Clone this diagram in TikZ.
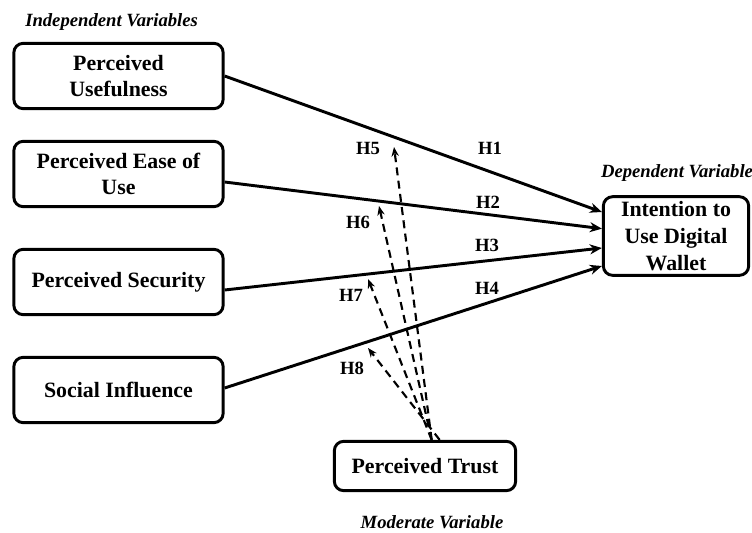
\documentclass[tikz,border=0pt]{standalone}
\usepackage{fontspec}
\setmainfont{Liberation Serif}
\usetikzlibrary{arrows.meta, positioning}

\begin{document}
\begin{tikzpicture}[
    x=0.75pt, y=-0.75pt,
    varBox/.style={draw, line width=2.2pt, rounded corners=7pt, align=center, inner sep=2pt,
        font=\fontsize{16.4}{20}\selectfont\bfseries}, % 变量方框
    groupTag/.style={font=\fontsize{14}{16}\selectfont\bfseries\itshape, inner sep=0pt}, % 变量类别标注
    hypoTag/.style={font=\fontsize{14}{16}\selectfont\bfseries, inner sep=0pt}, % 假设编号
    directPath/.style={line width=2.2pt, -{Stealth[length=9pt, width=7.5pt]}}, % 直接效应
    moderPath/.style={line width=1.6pt, dash pattern=on 6pt off 4pt, -{Stealth[length=7pt, width=5.5pt]}}, % 调节效应
]
    \useasboundingbox (0,0) rectangle (752,532);

    % 1. 自变量、因变量与调节变量方框
    \node[varBox, minimum width=157pt, minimum height=49pt] (pu)  at (118.5,76)  {Perceived\\Usefulness};
    \node[varBox, minimum width=157pt, minimum height=49pt] (peu) at (118.5,174) {Perceived Ease of\\Use};
    \node[varBox, minimum width=157pt, minimum height=49pt] (ps)  at (118.5,282) {Perceived Security};
    \node[varBox, minimum width=157pt, minimum height=49pt] (si)  at (118.5,390) {Social Influence};
    \node[varBox, minimum width=109pt, minimum height=59pt] (itu) at (676,236)   {Intention to\\Use Digital\\Wallet};
    \node[varBox, minimum width=136pt, minimum height=37pt] (pt)  at (425,466)   {Perceived Trust};

    % 2. 类别标注
    \node[groupTag, anchor=west] (ivTag) at (25,22)  {Independent Variables};
    \node[groupTag] (dvTag) at (677,173) {Dependent Variable};
    \node[groupTag] (mvTag) at (432,522) {Moderate Variable};

    % 3. 直接效应 H1-H4
    \draw[directPath] (pu.east)                  -- ([yshift=18pt]itu.west);
    \draw[directPath] ([yshift=-6pt]peu.east)    -- ([yshift=5.5pt]itu.west);
    \draw[directPath] ([yshift=-6pt]ps.east)     -- ([yshift=-9pt]itu.west);
    \draw[directPath] ([yshift=1.5pt]si.east)    -- ([yshift=-22.5pt]itu.west);

    \node[hypoTag] (h1) at (490,148) {H1};
    \node[hypoTag] (h2) at (488,202) {H2};
    \node[hypoTag] (h3) at (487,245) {H3};
    \node[hypoTag] (h4) at (487,288) {H4};

    % 4. 调节效应 H5-H8（虚线）
    \coordinate (src) at ([xshift=5pt]pt.north);
    \coordinate (t5) at (394,147);
    \coordinate (t6) at (379,206);
    \coordinate (t7) at (368,279);
    \coordinate (t8) at (368,348);
    \draw[moderPath] (src) -- (t5);
    \draw[moderPath] (src) -- (t6);
    \draw[moderPath] (src) -- (t7);
    \draw[moderPath] ([xshift=6pt]src) -- (t8);

    \node[hypoTag] (h5) at (368,148) {H5};
    \node[hypoTag] (h6) at (358,222) {H6};
    \node[hypoTag] (h7) at (351,295) {H7};
    \node[hypoTag] (h8) at (352,368) {H8};
\end{tikzpicture}
\end{document}
